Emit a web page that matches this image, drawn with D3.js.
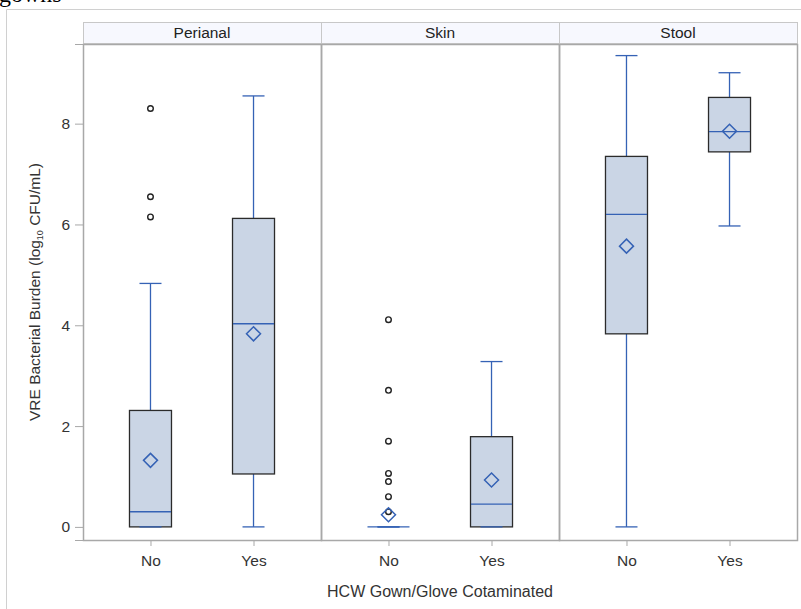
<!DOCTYPE html>
<html>
<head>
<meta charset="utf-8">
<script src="https://cdn.jsdelivr.net/npm/d3@7"></script>
<style>
  body { margin: 0; background: #fff; }
  svg { display: block; font-family: "Liberation Sans", Arial, sans-serif; }
</style>
</head>
<body>
<div id="chart"></div>
<script>
// panels and groups
var panels = ["Perianal", "Skin", "Stool"];
var groups = ["No", "Yes"];

// box stats per panel, order No / Yes  [min, q1, median, q3, max]
var perianalStats = [[0, 0, 0.30, 2.31, 4.83], [0, 1.05, 4.03, 6.12, 8.55]];
var skinStats     = [[0, 0, 0, 0, 0],          [0, 0, 0.45, 1.79, 3.28]];
var stoolStats    = [[0, 3.83, 6.20, 7.35, 9.35], [5.97, 7.44, 7.84, 8.52, 9.01]];

var perianalMeans = [1.32, 3.83];
var skinMeans     = [0.24, 0.93];
var stoolMeans    = [5.57, 7.85];

var perianalOutliers = [[6.15, 6.55, 8.30], []];
var skinOutliers     = [[0.30, 0.60, 0.90, 1.06, 1.70, 2.71, 4.11], []];
var stoolOutliers    = [[], []];

var yTicks = [0, 2, 4, 6, 8];

var statsAll = [perianalStats, skinStats, stoolStats];
var meansAll = [perianalMeans, skinMeans, stoolMeans];
var outAll = [perianalOutliers, skinOutliers, stoolOutliers];

var W = 801, H = 609;
// plot box (window.top is reserved, hence the names)
var plotLeft = 83, plotTop = 44, plotBottom = 540, panelW = 238, headH = 22;
var blue = "#3562b5", fill = "#cad5e5";
var fontSz = "15.5px";

var svg = d3.select("#chart").append("svg")
    .attr("width", W).attr("height", H);

// leftover from the document above the figure
svg.append("text")
    .attr("x", -1).attr("y", 2)
    .style("font-family", "'Liberation Serif', serif")
    .style("font-size", "24px")
    .text("gowns");

// outer frame
svg.append("path")
    .attr("d", "M6.5," + H + "V9.5H" + W)
    .attr("fill", "none").attr("stroke", "#d0d0d0");

var y = d3.scaleLinear().domain([-0.26, 9.58]).range([plotBottom, plotTop]);

var x = d3.scalePoint().domain(groups).range([0, panelW]).padding(0.655);

// y axis
var yAxis = svg.append("g")
    .attr("transform", "translate(" + plotLeft + ",0)")
    .call(d3.axisLeft(y).tickValues(yTicks).tickSize(8).tickPadding(5));
yAxis.select(".domain").attr("stroke", "#a8a8a8");
yAxis.selectAll(".tick line").attr("stroke", "#a8a8a8");
yAxis.selectAll("text").attr("fill", "#333").style("font-size", fontSz)
    .style("font-family", "'Liberation Sans', Arial, sans-serif");

var yTitle = svg.append("text")
    .attr("transform", "translate(40," + ((plotTop + plotBottom) / 2) + ") rotate(-90)")
    .attr("text-anchor", "middle")
    .attr("fill", "#333")
    .style("font-size", fontSz);
yTitle.append("tspan").text("VRE Bacterial Burden (log");
yTitle.append("tspan").text("10").style("font-size", "9px").attr("dy", 3);
yTitle.append("tspan").text(" CFU/mL)").attr("dy", -3);

panels.forEach(function (p, i) {
    var px = plotLeft + i * panelW;
    var g = svg.append("g").attr("transform", "translate(" + px + ",0)");

    // header
    g.append("rect")
        .attr("x", 0.5).attr("y", plotTop - headH + 0.5)
        .attr("width", panelW).attr("height", headH - 1)
        .attr("fill", "#f7f8fe").attr("stroke", "#c8c8c8");
    g.append("text")
        .attr("x", panelW / 2).attr("y", plotTop - 6)
        .attr("text-anchor", "middle")
        .attr("fill", "#222")
        .style("font-size", fontSz)
        .text(p);

    // panel body border
    g.append("rect")
        .attr("x", 0.5).attr("y", plotTop + 0.5)
        .attr("width", panelW).attr("height", plotBottom - plotTop)
        .attr("fill", "none").attr("stroke", "#a8a8a8").attr("stroke-width", 1.5);

    // x axis
    var xAxis = g.append("g")
        .attr("transform", "translate(0," + plotBottom + ")")
        .call(d3.axisBottom(x).tickSize(6).tickPadding(9));
    xAxis.select(".domain").remove();
    xAxis.selectAll(".tick line").attr("stroke", "#a8a8a8");
    xAxis.selectAll("text").attr("fill", "#333").style("font-size", fontSz)
        .style("font-family", "'Liberation Sans', Arial, sans-serif");

    groups.forEach(function (grp, j) {
        var s = statsAll[i][j];
        var cx = x(grp);
        var bw = 42, cw = 22;

        // whiskers
        g.append("line")
            .attr("x1", cx).attr("x2", cx)
            .attr("y1", y(s[3])).attr("y2", y(s[4]))
            .attr("stroke", blue).attr("stroke-width", 1.3);
        g.append("line")
            .attr("x1", cx).attr("x2", cx)
            .attr("y1", y(s[0])).attr("y2", y(s[1]))
            .attr("stroke", blue).attr("stroke-width", 1.3);

        // box
        g.append("rect")
            .attr("x", cx - bw / 2).attr("y", y(s[3]))
            .attr("width", bw).attr("height", y(s[1]) - y(s[3]))
            .attr("fill", fill).attr("stroke", "#2b2b2b").attr("stroke-width", 1.3);

        // caps
        [s[0], s[4]].forEach(function (v) {
            g.append("line")
                .attr("x1", cx - cw / 2).attr("x2", cx + cw / 2)
                .attr("y1", y(v)).attr("y2", y(v))
                .attr("stroke", blue).attr("stroke-width", 1.3);
        });

        // median
        var mw = (s[1] === s[3]) ? bw : bw - 1;
        g.append("line")
            .attr("x1", cx - mw / 2).attr("x2", cx + mw / 2)
            .attr("y1", y(s[2])).attr("y2", y(s[2]))
            .attr("stroke", blue).attr("stroke-width", 1.3);

        // outliers
        g.selectAll(null)
            .data(outAll[i][j])
            .enter().append("circle")
            .attr("cx", cx).attr("cy", function (d) { return y(d); })
            .attr("r", 2.8)
            .attr("fill", "none").attr("stroke", "#222").attr("stroke-width", 1.4);

        // mean diamond
        var m = y(meansAll[i][j]), r = 7;
        g.append("path")
            .attr("d", "M" + cx + "," + (m - r) + "L" + (cx + r) + "," + m +
                "L" + cx + "," + (m + r) + "L" + (cx - r) + "," + m + "Z")
            .attr("fill", "none").attr("stroke", blue).attr("stroke-width", 1.5);
    });
});

// bottom axis line across all panels
svg.append("line")
    .attr("x1", plotLeft).attr("x2", plotLeft + 3 * panelW + 1)
    .attr("y1", plotBottom + 0.5).attr("y2", plotBottom + 0.5)
    .attr("stroke", "#a8a8a8");

svg.append("text")
    .attr("x", plotLeft + 1.5 * panelW).attr("y", 597)
    .attr("text-anchor", "middle")
    .attr("fill", "#333")
    .style("font-size", "16px")
    .text("HCW Gown/Glove Cotaminated");
</script>
</body>
</html>
